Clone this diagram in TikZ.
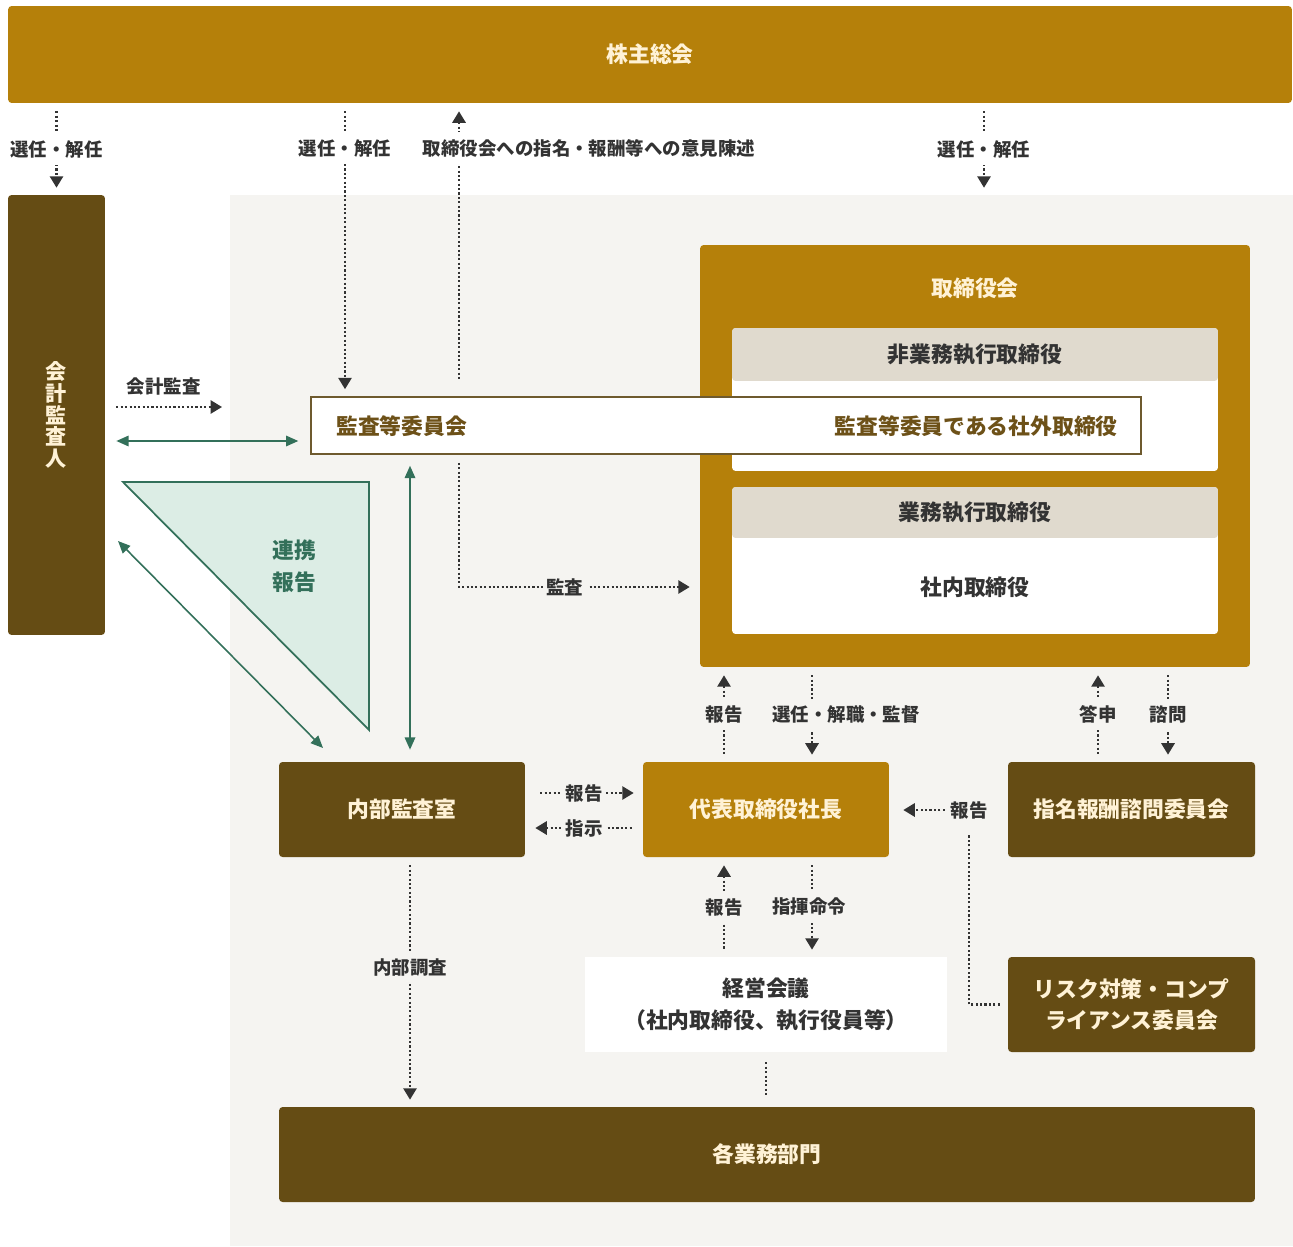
\documentclass[tikz,border=0pt]{standalone}
\usepackage{fontspec}
\setmainfont{Noto Sans CJK JP}
\usepackage{tikz}
\usetikzlibrary{arrows.meta}

\definecolor{gold}{HTML}{B5800A}
\definecolor{brown}{HTML}{654C14}
\definecolor{cream}{HTML}{FFF2D6}
\definecolor{panel}{HTML}{F5F4F1}
\definecolor{beige}{HTML}{E0DACE}
\definecolor{ink}{HTML}{333333}
\definecolor{teal}{HTML}{33705A}
\definecolor{tealfill}{HTML}{DCEDE5}
\definecolor{abtext}{HTML}{6D5118}
\definecolor{abline}{HTML}{6E5A2E}
\newcommand\bxfont{\bfseries\fontsize{12.4}{18}\selectfont}
\newcommand\lbfont{\bfseries\fontsize{10.5}{12}\selectfont}

\begin{document}
\begin{tikzpicture}[x=0.02cm,y=-0.02cm,
	box/.style={rounded corners=2pt,minimum width=4.92cm,minimum height=1.9cm,text=cream,font=\bxfont,align=center,inner sep=0pt},
	dark/.style={box,fill=brown},
	goldbox/.style={box,fill=gold},
	card/.style={fill=white,rounded corners=2pt,minimum width=9.72cm,inner sep=0pt},
	head/.style={fill=beige,rounded corners=2pt,minimum width=9.72cm,text=ink,font=\bxfont,inner sep=0pt},
	dl/.style={draw=ink,line width=1.3pt,dash pattern=on 1.2pt off 1.3pt,shorten <=0.16cm,shorten >=0.14cm},
	gl/.style={draw=teal,line width=0.9pt,shorten <=0.22cm,shorten >=0.24cm,>={Triangle[width=6pt,length=7pt]}},
	lbl/.style={fill=panel,text=ink,font=\lbfont,inner xsep=2pt,inner ysep=4pt},
	>={Triangle[width=7.5pt,length=6.5pt]}]
	\useasboundingbox (0,0) rectangle (1293,1246);
	\node[fill=panel,minimum width=21.26cm,minimum height=21.02cm,inner sep=0pt] (CO) at (761.5,720.5) {};
	\node[goldbox,minimum width=25.68cm,minimum height=1.94cm] (SH) at (650,54.5) {株主総会};
	\node[dark,minimum width=1.94cm,minimum height=8.8cm,font=\bfseries\fontsize{12}{12.4}\selectfont] (AC) at (56.5,415) {会\\計\\監\\査\\人};

	\node[goldbox,minimum width=11cm,minimum height=8.44cm] (BD) at (975,456) {};
	\node[text=cream,font=\bxfont] (BDt) at (975,288) {取締役会};
	\node[card,minimum height=2.86cm] (NE) at (975,399.5) {};
	\node[head,minimum height=1.06cm] (NEh) at (975,354.5) {非業務執行取締役};
	\node[card,minimum height=2.94cm] (EX) at (975,560.5) {};
	\node[head,minimum height=1.02cm] (EXh) at (975,512.5) {業務執行取締役};
	\node[text=ink,font=\bxfont] (EXt) at (975,587) {社内取締役};

	\node[fill=white,draw=abline,line width=0.9pt,minimum width=16.6cm,minimum height=1.14cm] (AB) at (726,425.5) {};
	\node[anchor=west,text=abtext,font=\bxfont,inner sep=0pt] (ABl) at (336,426) {監査等委員会};
	\node[anchor=east,text=abtext,font=\bxfont,inner sep=0pt] (ABr) at (1118,426) {監査等委員である社外取締役};

	\node[dark] (IA) at (402,809.5) {内部監査室};
	\node[goldbox] (PR) at (766,809.5) {代表取締役社長};
	\node[dark,minimum width=4.94cm] (NC) at (1131.5,809.5) {指名報酬諮問委員会};
	\node[dark,minimum width=4.94cm] (RC) at (1131.5,1004.5) {リスク対策・コンプ\\ライアンス委員会};
	\node[box,fill=white,text=ink,minimum width=7.24cm,rounded corners=0pt] (MM) at (766,1004.5) {経営会議\\（社内取締役、執行役員等）};
	\node[dark,minimum width=19.52cm] (DV) at (767,1154.5) {各業務部門};

	\draw[teal,fill=tealfill,line width=1pt] (123,482) -- (369,482) -- (369,730) -- cycle;
	\node[text=teal,font=\bxfont,align=center] (TR) at (294,566) {連携\\報告};

	\coordinate (v1) at (345,0);
	\coordinate (v2) at (459,0);
	\coordinate (v3) at (984,0);
	\coordinate (v4) at (410,0);
	\coordinate (v5) at (724,0);
	\coordinate (v6) at (812,0);
	\coordinate (v7) at (1098,0);
	\coordinate (v8) at (1168,0);
	\coordinate (h1) at (0,793);
	\coordinate (h2) at (0,828);
	\coordinate (h3) at (0,441);
	\coordinate (b1) at (222,407);
	\coordinate (g1) at (118,541);
	\coordinate (g2) at (323,748);

	\draw[dl,->] (SH.south -| AC) -- (AC.north) node[lbl,fill=white,midway] {選任・解任};
	\draw[dl,->] (SH.south -| v1) -- (AB.north -| v1) node[lbl,fill=white,pos=0.153] {選任・解任};
	\draw[dl,<-,shorten >=0.3cm] (SH.south -| v2) -- (AB.north -| v2) node[lbl,fill=white,pos=0.153,xshift=2.6cm] {取締役会への指名・報酬等への意見陳述};
	\draw[dl,->] (SH.south -| v3) -- (CO.north -| v3) node[lbl,fill=white,midway] {選任・解任};

	\draw[dl,->,shorten <=0.22cm,shorten >=0pt] (AC.east |- b1) -- (b1) node[lbl,fill=none,midway,above=2pt] {会計監査};
	\draw[gl,<->] (AC.east |- h3) -- (AB.west |- h3);
	\draw[gl,<->,shorten <=0pt,shorten >=0pt] (g1) -- (g2);
	\draw[gl,<->] (AB.south -| v4) -- (IA.north -| v4);

	\draw[dl,->,shorten >=0.2cm] (AB.south -| v2) |- (BD.west |- EXt) node[lbl,pos=0.72] {監査};

	\draw[dl,->,shorten <=0.3cm,shorten >=0.18cm] (IA.east |- h1) -- (PR.west |- h1) node[lbl,midway] {報告};
	\draw[dl,<-,shorten <=0.2cm,shorten >=0.22cm] (IA.east |- h2) -- (PR.west |- h2) node[lbl,midway] {指示};

	\draw[dl,<-] (BD.south -| v5) -- (PR.north -| v5) node[lbl,midway] {報告};
	\draw[dl,->] (BD.south -| v6) -- (PR.north -| v6) node[lbl,midway,xshift=0.68cm] {選任・解職・監督};
	\draw[dl,<-] (BD.south -| v7) -- (NC.north -| v7) node[lbl,midway] {答申};
	\draw[dl,->] (BD.south -| v8) -- (NC.north -| v8) node[lbl,midway] {諮問};

	\draw[dl,<-] (PR.south -| v5) -- (MM.north -| v5) node[lbl,midway] {報告};
	\draw[dl,->] (PR.south -| v6) -- (MM.north -| v6) node[lbl,midway,xshift=-0.06cm] {指揮命令};

	\node[lbl] (R3) at (969,810) {報告};
	\draw[dl] (RC.west) -| (R3.south);
	\draw[dl,->,shorten <=0.04cm,shorten >=0.28cm] (R3.west) -- (PR.east |- R3.west);

	\draw[dl,->] (IA.south -| v4) -- (DV.north -| v4) node[lbl,pos=0.44] {内部調査};
	\draw[dl,shorten >=0.22cm,shorten <=0.2cm] (MM.south) -- (MM.south |- DV.north);
\end{tikzpicture}
\end{document}
